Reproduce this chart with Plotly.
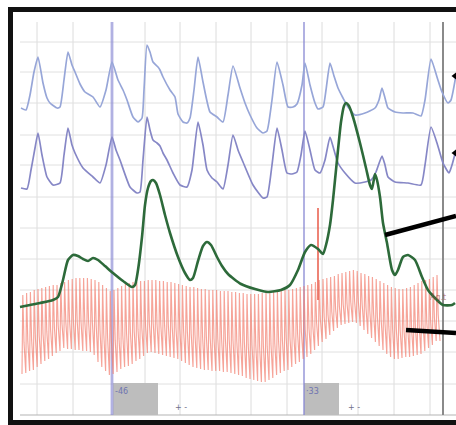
import plotly.graph_objects as go

# ---------------- data ----------------
# thoracic pneumograph (top blue)
pn1_t = [21,26,30,34,38,43,47,50,57,60,64,68,72,75,80,85,93,100,106,112,118,123,127,133,138,142,144,147,150,153,158,160,163,170,175,178,183,187,190,194,198,203,210,217,223,228,233,240,245,250,257,263,267,272,277,283,288,293,297,302,305,310,315,318,323,326,330,334,338,343,348,355,365,375,379,382,385,388,395,403,413,421,425,431,437,442,448,451,456]
pn1_v = [108,110,95,72,57,83,98,103,108,107,80,52,65,72,84,92,97,107,90,62,80,90,100,117,122,118,90,45,52,62,67,70,77,90,97,114,122,123,118,90,57,82,112,117,122,95,66,88,103,115,128,133,131,100,62,85,107,107,104,85,63,85,103,109,107,90,63,76,88,98,107,115,113,108,100,88,98,108,112,113,113,116,100,59,77,92,103,100,75]

# abdominal pneumograph (second blue)
pn2_t = [21,27,31,35,38,42,47,53,60,64,68,72,75,83,93,100,106,112,116,120,130,137,140,143,147,150,153,157,160,163,167,173,180,187,192,198,203,207,212,217,223,228,233,238,243,253,263,267,272,277,282,287,292,297,301,305,310,315,320,325,330,334,338,345,355,365,371,376,382,385,388,395,408,421,425,431,437,443,449,452,456]
pn2_v = [188,189,170,148,133,155,177,185,183,155,128,145,153,168,177,183,165,137,150,160,187,193,192,160,117,130,140,143,146,153,160,173,185,187,170,122,145,170,178,182,189,165,135,150,162,185,198,197,165,128,150,173,174,172,155,131,150,170,173,160,137,150,163,173,183,182,180,172,156,165,177,182,183,185,165,127,143,163,173,165,150]

# electrodermal (green)
eda_t = [20,30,40,53,58,63,68,73,78,83,88,93,98,105,113,123,132,135,138,142,145,148,151,153,156,160,165,170,178,185,190,193,198,203,207,211,217,222,228,241,255,268,281,290,298,305,311,318,323,326,330,333,335,338,341,344,346,349,353,360,366,370,372,375,377,380,383,387,392,395,398,403,408,415,422,428,437,443,452,455]
eda_v = [307,305,303,300,297,280,260,255,256,259,261,258,260,266,273,281,287,285,270,237,205,188,181,180,183,195,215,233,257,273,280,278,261,246,242,245,257,266,274,284,289,292,290,285,270,252,245,249,254,245,225,200,180,150,122,106,103,106,117,143,168,185,189,174,180,197,223,243,270,275,270,257,255,260,277,290,300,305,305,303]

# cardio: one entry per beat (start time, systolic top, diastolic bottom)
beat_start = 22.0
beat_period = 3.8
cardio_top = [295,293,292,290,289,288,287,286,285,285,
              283,282,280,279,278,278,278,278,279,280,
              282,285,288,291,290,288,286,284,283,282,
              282,281,281,280,280,280,281,281,282,282,
              283,284,285,286,287,287,288,289,289,290,
              290,290,291,291,291,292,292,293,293,294,
              294,294,294,293,293,292,292,291,291,290,
              290,289,288,287,286,285,284,282,280,279,
              278,277,276,274,273,272,271,270,271,273,
              274,276,277,279,281,283,285,287,288,289,
              289,288,287,285,283,281,280,279,277,275]
cardio_bot = [374,373,371,370,367,364,361,359,356,353,
              351,348,349,349,350,350,351,351,352,355,
              362,367,371,375,374,372,369,367,366,364,
              361,359,356,353,352,353,354,355,356,357,
              358,359,361,363,365,367,368,369,370,370,
              371,371,371,372,372,373,374,375,376,378,
              379,380,381,382,382,380,378,375,373,371,
              370,367,364,362,359,357,354,350,346,342,
              339,335,331,328,325,324,323,322,323,326,
              330,334,338,342,346,350,354,357,359,359,
              358,357,357,356,355,354,351,348,345,341]

# artifact spike on cardio channel
spike_t = [318, 318]
spike_v = [208, 300]

# chart furniture
grid_x = [37, 73, 145, 180, 216, 251, 287, 322, 358, 394, 430]
grid_y = [42, 72, 103, 135, 165, 197, 228, 259, 290, 321, 352, 384]
grid_top, grid_bottom, grid_left, grid_right = 22, 415, 20, 456
marker_x = [112, 304]          # blue question markers
marker_end_x = 443             # dark end marker
q_box_x0 = [113, 304]
q_box_x1 = [158, 339]
q_labels = ["-46", "\u00b733"]
q_label_x = [121, 312]
pm_label_x = [181, 354]
pointer1_x, pointer1_y = [385, 456], [235, 216]
pointer2_x, pointer2_y = [406, 456], [330, 333]
arrow_x, arrow_y = [455, 455], [76, 153]

# ---------------- figure ----------------
fig = go.Figure()

shapes = []
for gx in grid_x:
    shapes.append(dict(type="line", xref="x", yref="y", x0=gx, x1=gx, y0=grid_top, y1=grid_bottom,
                       line=dict(color="#dcdcdc", width=1), layer="below"))
for gy in grid_y:
    shapes.append(dict(type="line", xref="x", yref="y", x0=grid_left, x1=grid_right, y0=gy, y1=gy,
                       line=dict(color="#e0e0e0", width=1), layer="below"))
shapes.append(dict(type="line", xref="x", yref="y", x0=grid_left, x1=grid_right, y0=grid_bottom, y1=grid_bottom,
                   line=dict(color="#b4b4b4", width=1.2), layer="below"))
for x0, x1 in zip(q_box_x0, q_box_x1):
    shapes.append(dict(type="rect", xref="x", yref="y", x0=x0, x1=x1, y0=383, y1=grid_bottom,
                       fillcolor="#bdbdbd", line=dict(width=0), layer="below"))
for mx, w in zip(marker_x, [2.8, 2.0]):
    shapes.append(dict(type="line", xref="x", yref="y", x0=mx, x1=mx, y0=grid_top, y1=grid_bottom,
                       line=dict(color="rgba(135,135,210,0.65)", width=w), layer="below"))
shapes.append(dict(type="line", xref="x", yref="y", x0=marker_end_x, x1=marker_end_x, y0=grid_top, y1=grid_bottom,
                   line=dict(color="#8a8a8a", width=2), layer="below"))
# black frame
shapes.append(dict(type="rect", xref="x", yref="y", x0=10.5, x1=480, y0=9.5, y1=422.5,
                   line=dict(color="#111111", width=5), fillcolor="rgba(0,0,0,0)"))

# cardio trace built beat by beat
c_t, c_v = [], []
for k, (top, bot) in enumerate(zip(cardio_top, cardio_bot)):
    t = beat_start + k * beat_period
    c_t += [t, t + 0.8, t + 2.0]
    c_v += [bot, top, top + 0.6 * (bot - top)]
c_t.append(beat_start + len(cardio_top) * beat_period)
c_v.append(cardio_bot[-1])

fig.add_trace(go.Scatter(x=c_t, y=c_v, mode="lines",
                         line=dict(color="rgba(242,125,110,0.7)", width=1.15)))
fig.add_trace(go.Scatter(x=spike_t, y=spike_v, mode="lines",
                         line=dict(color="#e85a48", width=1.5)))
fig.add_trace(go.Scatter(x=pn1_t, y=pn1_v, mode="lines",
                         line=dict(color="#97a6d8", width=1.7, shape="spline", smoothing=0.5)))
fig.add_trace(go.Scatter(x=pn2_t, y=pn2_v, mode="lines",
                         line=dict(color="#8687c6", width=1.7, shape="spline", smoothing=0.5)))
fig.add_trace(go.Scatter(x=eda_t, y=eda_v, mode="lines",
                         line=dict(color="#2d6a3a", width=2.6, shape="spline", smoothing=0.6)))
fig.add_trace(go.Scatter(x=pointer1_x, y=pointer1_y, mode="lines",
                         line=dict(color="#000000", width=4.5)))
fig.add_trace(go.Scatter(x=pointer2_x, y=pointer2_y, mode="lines",
                         line=dict(color="#000000", width=4.5)))
fig.add_trace(go.Scatter(x=arrow_x, y=arrow_y, mode="markers",
                         marker=dict(symbol="triangle-left", size=7, color="#000000")))

annotations = []
for lx, lab in zip(q_label_x, q_labels):
    annotations.append(dict(x=lx, y=391, xref="x", yref="y", text=lab, showarrow=False,
                            font=dict(family="DejaVu Sans", size=8, color="#6f74b0")))
for px in pm_label_x:
    annotations.append(dict(x=px, y=407, xref="x", yref="y", text="+ -", showarrow=False,
                            font=dict(family="DejaVu Sans", size=8, color="#70708a")))
annotations.append(dict(x=438, y=297, xref="x", yref="y", text="Ag.t", showarrow=False,
                        font=dict(family="DejaVu Sans", size=8, color="rgba(150,70,60,0.6)")))

fig.update_layout(
    width=456, height=425,
    margin=dict(l=0, r=0, t=0, b=0),
    paper_bgcolor="white", plot_bgcolor="white",
    showlegend=False,
    shapes=shapes, annotations=annotations,
    xaxis=dict(range=[0, 456], visible=False, fixedrange=True),
    yaxis=dict(range=[425, 0], visible=False, fixedrange=True),
)

fig.write_html("out.html", config={"displayModeBar": False},
               post_script="document.body.style.margin='0px';document.body.style.overflow='hidden';")
